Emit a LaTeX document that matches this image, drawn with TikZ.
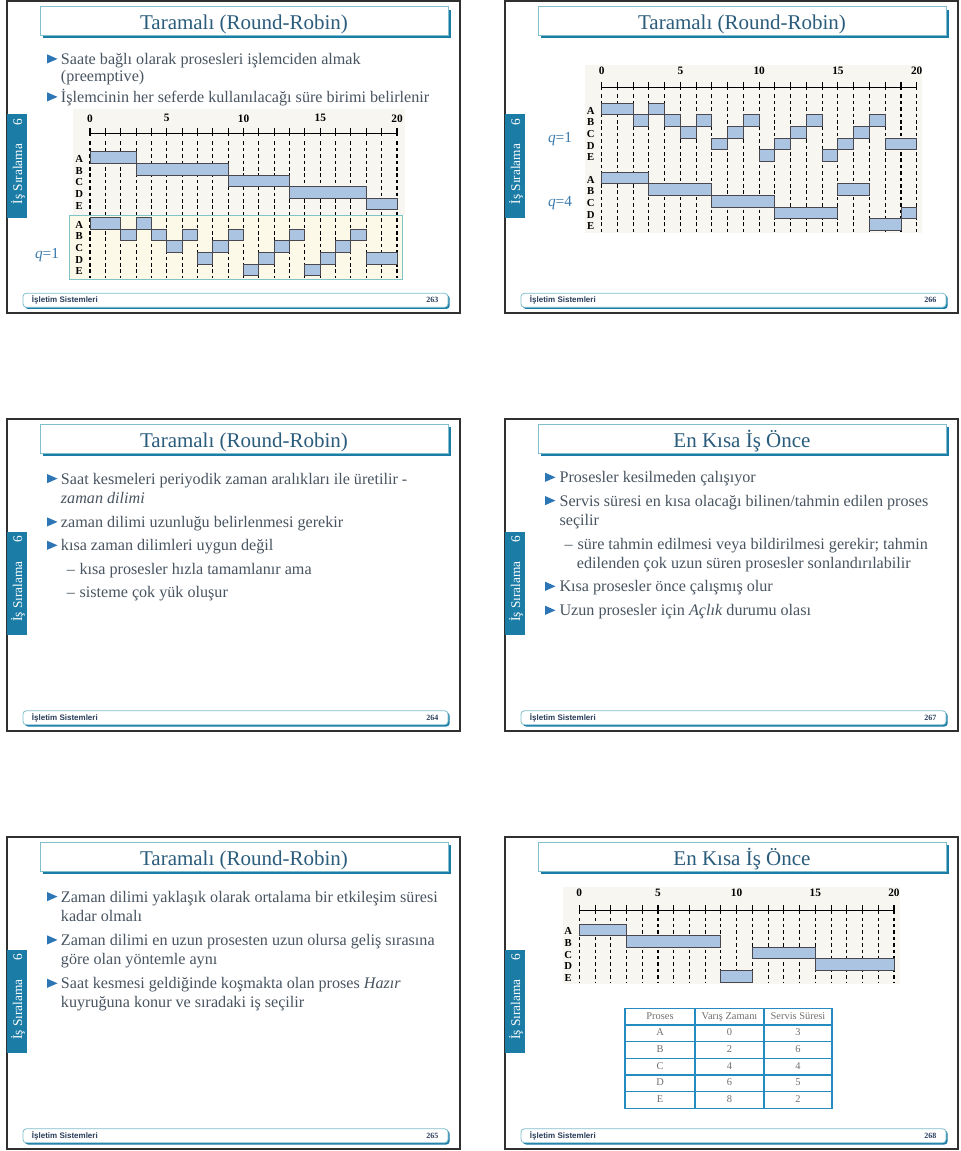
\documentclass[tikz,border=0pt]{standalone}
\usepackage{fontspec}
\setmainfont{Liberation Serif}
\setsansfont{Liberation Sans}
\usetikzlibrary{positioning}
\definecolor{SLDblue}{RGB}{27,124,166}
\definecolor{SLDline}{RGB}{128,190,206}
\definecolor{SLDtitle}{RGB}{42,92,124}
\definecolor{SLDfoot}{RGB}{40,60,90}
\definecolor{SLDtext}{RGB}{72,84,96}
\definecolor{SLDbullet}{RGB}{44,118,182}
\definecolor{SLDq}{RGB}{58,122,172}
\definecolor{SLDbar}{RGB}{170,196,226}
\definecolor{SLDbarline}{RGB}{72,72,78}
\definecolor{SLDchart}{RGB}{248,246,241}
\definecolor{SLDqbox}{RGB}{252,249,233}
\definecolor{SLDqline}{RGB}{128,196,200}
\definecolor{SLDframe}{RGB}{48,48,48}
\definecolor{SLDtable}{RGB}{36,140,190}
\definecolor{SLDcell}{RGB}{112,112,112}
\tikzset{
  frameline/.style={draw=SLDframe, line width=1.5pt},
  titlebox/.style={draw=SLDline, fill=white, line width=0.6pt},
  titletext/.style={anchor=base, text=SLDtitle, inner sep=0pt, font=\fontsize{15.75}{18}\selectfont},
  tabtext/.style={text=white, rotate=90, anchor=base, inner sep=0pt, font=\fontsize{10}{12}\selectfont},
  footbox/.style={draw=SLDline, fill=white, line width=0.6pt, rounded corners=2.5pt},
  footshade/.style={fill=SLDblue, rounded corners=2.5pt},
  foottext/.style={anchor=west, inner sep=0pt, text=SLDfoot, font=\sffamily\bfseries\fontsize{6}{7}\selectfont},
  pagetext/.style={anchor=east, inner sep=0pt, text=SLDfoot, font=\bfseries\fontsize{6}{7}\selectfont},
  body/.style={anchor=base west, inner sep=0pt, text=SLDtext, font=\fontsize{12.1}{14.6}\selectfont},
  qlabel/.style={text=SLDq, inner sep=0pt, font=\fontsize{11.5}{13}\selectfont},
  chartbg/.style={fill=SLDchart},
  qbox/.style={draw=SLDqline, fill=SLDqbox, line width=0.6pt},
  axisline/.style={draw=black, line width=0.8pt},
  dashline/.style={draw=black, line width=0.8pt, dash pattern=on 2.6pt off 2.2pt},
  bar/.style={draw=SLDbarline, fill=SLDbar, line width=0.7pt},
  ticklabel/.style={inner sep=0pt, font=\bfseries\fontsize{8.5}{10}\selectfont},
  rowlabel/.style={inner sep=0pt, font=\bfseries\fontsize{8}{9}\selectfont},
  tabline/.style={draw=SLDtable, line width=1.1pt, line cap=rect},
  tabcell/.style={inner sep=0pt, text=SLDcell, text height=5.5pt, text depth=1.6pt, font=\fontsize{7.8}{9}\selectfont},
  bulletmark/.pic={\fill[SLDbullet] (0,0) -- (10.5,4.6) -- (0,9.2) -- cycle;},
}
% slide frame: name, title, page
\newcommand{\slideframe}[3]{%
  \draw[frameline] (0,0) rectangle (453,312);
  \fill[SLDblue] (36,8.7) rectangle (444,37.5);
  \draw[titlebox] (33,5.7) rectangle (441,34.5);
  \node[titletext] (#1-title) at (237,28.5) {#2};
  \fill[SLDblue] (0,113.3) rectangle (20,216.7);
  \node[tabtext] (#1-tab) at (15,173) {İş Sıralama};
  \node[tabtext] (#1-chap) at (15,121) {6};
  \fill[footshade] (17.7,294) rectangle (442.7,308);
  \draw[footbox] (16,292.3) rectangle (441,306.3);
  \node[foottext] (#1-foot) at (24.7,299.3) {İşletim Sistemleri};
  \node[pagetext] (#1-page) at (431.7,299.3) {#3};
}
% time axis: name, label y, axis y, dash top, dash bottom
\newcommand{\ganttframe}[5]{%
  \foreach \tm in {0,...,20} {
    \draw[dashline] (\tm,#4) -- (\tm,#5);
    \draw[axisline] (\tm,#3-5.5) -- (\tm,#3+3);
  }
  \draw[axisline] (0,#3) -- (20,#3);
  \foreach \tm in {0,5,...,20} \node[ticklabel] (#1-n\tm) at (\tm,#2) {\tm};
}
% bars: name, first row top, row/start/end list
\newcommand{\ganttrows}[3]{%
  \foreach \pl [count=\rw from 0] in {A,...,E}
    \node[rowlabel] (#1-\pl) at (-0.7,{#2+(\rw+0.5)*11.65+1.5}) {\pl};
  \foreach \ro/\tb/\te in {#3}
    \draw[bar] (\tb,{#2+\ro*11.65}) rectangle (\te,{#2+(\ro+1)*11.65});
}
\begin{document}
\begin{tikzpicture}[x=0.75pt, y=-0.75pt]
  \useasboundingbox (0,0) rectangle (960,1151);
  \fill[white] (0,0) rectangle (960,1151);

  % 263
  \begin{scope}[shift={(7,1)}]
    \slideframe{a}{Taramalı (Round-Robin)}{263}
    \pic at (40,53.3) {bulletmark};
    \node[body] (a-t1) at (53.7,63.3) {Saate bağlı olarak prosesleri işlemciden almak};
    \node[body] (a-t1b) at (53.7,80.7) {(preemptive)};
    \pic at (40,91.3) {bulletmark};
    \node[body] (a-t2) at (53.7,101.3) {İşlemcinin her seferde kullanılacağı süre birimi belirlenir};
    \fill[chartbg] (66,108) rectangle (398,214);
    \draw[qbox] (62,214.5) rectangle (395.5,278);
    \node[qlabel] (a-q1) at (40,254) {\textit{q}=1};
    \begin{scope}[shift={(83,0)}, x=11.5125pt]
      \ganttframe{a}{117.3}{132.3}{140.5}{277}
      \ganttrows{a}{150.7}{0/0/3,1/3/9,2/9/13,3/13/18,4/18/20}
      \ganttrows{aq}{216.5}{0/0/2,0/3/4,1/2/3,1/4/5,1/6/7,1/9/10,1/13/14,1/17/18,2/5/6,2/8/9,2/12/13,2/16/17,3/7/8,3/11/12,3/15/16,3/18/20,4/10/11,4/14/15}
    \end{scope}
  \end{scope}

  % 266
  \begin{scope}[shift={(505,1)}]
    \slideframe{b}{Taramalı (Round-Robin)}{266}
    \fill[chartbg] (80,64) rectangle (417,232);
    \node[qlabel] (b-q1) at (55,138.5) {\textit{q}=1};
    \node[qlabel] (b-q4) at (55,202.5) {\textit{q}=4};
    \begin{scope}[shift={(96.7,0)}, x=11.8125pt]
      \ganttframe{b}{69.7}{86.3}{93.5}{232}
      \ganttrows{b}{102.3}{0/0/2,0/3/4,1/2/3,1/4/5,1/6/7,1/9/10,1/13/14,1/17/18,2/5/6,2/8/9,2/12/13,2/16/17,3/7/8,3/11/12,3/15/16,3/18/20,4/10/11,4/14/15}
      \ganttrows{bq}{171.3}{0/0/3,1/3/7,1/15/17,2/7/11,3/11/15,3/19/20,4/17/19}
    \end{scope}
  \end{scope}

  % 264
  \begin{scope}[shift={(7,418.5)}]
    \slideframe{c}{Taramalı (Round-Robin)}{264}
    \pic at (40,55.5) {bulletmark};
    \node[body] (c-t1) at (53.7,65.5) {Saat kesmeleri periyodik zaman aralıkları ile üretilir -};
    \node[body] (c-t1b) at (53.7,84.8) {\textit{zaman dilimi}};
    \pic at (40,98.8) {bulletmark};
    \node[body] (c-t2) at (53.7,108.8) {zaman dilimi uzunluğu belirlenmesi gerekir};
    \pic at (40,122.2) {bulletmark};
    \node[body] (c-t3) at (53.7,132.2) {kısa zaman dilimleri uygun değil};
    \node[body] (c-d1) at (59.7,155.5) {–};
    \node[body, base right=3pt of c-d1] (c-s1) {kısa prosesler hızla tamamlanır ama};
    \node[body] (c-d2) at (59.7,178.8) {–};
    \node[body, base right=3pt of c-d2] (c-s2) {sisteme çok yük oluşur};
  \end{scope}

  % 267
  \begin{scope}[shift={(505,418.5)}]
    \slideframe{d}{En Kısa İş Önce}{267}
    \pic at (40,54.2) {bulletmark};
    \node[body] (d-t1) at (54.3,64.2) {Prosesler kesilmeden çalışıyor};
    \pic at (40,77.5) {bulletmark};
    \node[body] (d-t2) at (54.3,87.5) {Servis süresi en kısa olacağı bilinen/tahmin edilen proses};
    \node[body] (d-t2b) at (54.3,107.2) {seçilir};
    \node[body] (d-d1) at (59.3,130.8) {–};
    \node[body, base right=3.3pt of d-d1] (d-s1) {süre tahmin edilmesi veya bildirilmesi gerekir; tahmin};
    \node[body] (d-s1b) at (71.7,149.8) {edilenden çok uzun süren prosesler sonlandırılabilir};
    \pic at (40,163.2) {bulletmark};
    \node[body] (d-t3) at (54.3,173.2) {Kısa prosesler önce çalışmış olur};
    \pic at (40,187.2) {bulletmark};
    \node[body] (d-t4) at (54.3,197.2) {Uzun prosesler için \textit{Açlık} durumu olası};
  \end{scope}

  % 265
  \begin{scope}[shift={(7,836.5)}]
    \slideframe{e}{Taramalı (Round-Robin)}{265}
    \pic at (40,55.5) {bulletmark};
    \node[body] (e-t1) at (53.7,65.5) {Zaman dilimi yaklaşık olarak ortalama bir etkileşim süresi};
    \node[body] (e-t1b) at (53.7,84.8) {kadar olmalı};
    \pic at (40,98.8) {bulletmark};
    \node[body] (e-t2) at (53.7,108.8) {Zaman dilimi en uzun prosesten uzun olursa geliş sırasına};
    \node[body] (e-t2b) at (53.7,128.2) {göre olan yöntemle aynı};
    \pic at (40,142.2) {bulletmark};
    \node[body] (e-t3) at (53.7,152.2) {Saat kesmesi geldiğinde koşmakta olan proses \textit{Hazır}};
    \node[body] (e-t3b) at (53.7,171.2) {kuyruğuna konur ve sıradaki iş seçilir};
  \end{scope}

  % 268
  \begin{scope}[shift={(505,836.5)}]
    \slideframe{f}{En Kısa İş Önce}{268}
    \fill[chartbg] (58,50.5) rectangle (395,147.5);
    \begin{scope}[shift={(74.3,0)}, x=11.8pt]
      \ganttframe{f}{56.5}{74.2}{81}{146}
      \ganttrows{f}{87.5}{0/0/3,1/3/9,4/9/11,2/11/15,3/15/20}
    \end{scope}
    \foreach \rw in {0,...,6} \draw[tabline] (120,{171.8+\rw*16.67}) -- (327,{171.8+\rw*16.67});
    \foreach \cx in {120,190,259,327} \draw[tabline] (\cx,171.8) -- (\cx,271.8);
    \foreach \pr/\ar/\sv [count=\rw from 0] in {Proses/Varış Zamanı/Servis Süresi,A/0/3,B/2/6,C/4/4,D/6/5,E/8/2} {
      \node[tabcell] (f-p\rw) at (155,{171.8+(\rw+0.5)*16.67}) {\pr};
      \node[tabcell] (f-a\rw) at (224.5,{171.8+(\rw+0.5)*16.67}) {\ar};
      \node[tabcell] (f-s\rw) at (293,{171.8+(\rw+0.5)*16.67}) {\sv};
    }
  \end{scope}
\end{tikzpicture}
\end{document}
